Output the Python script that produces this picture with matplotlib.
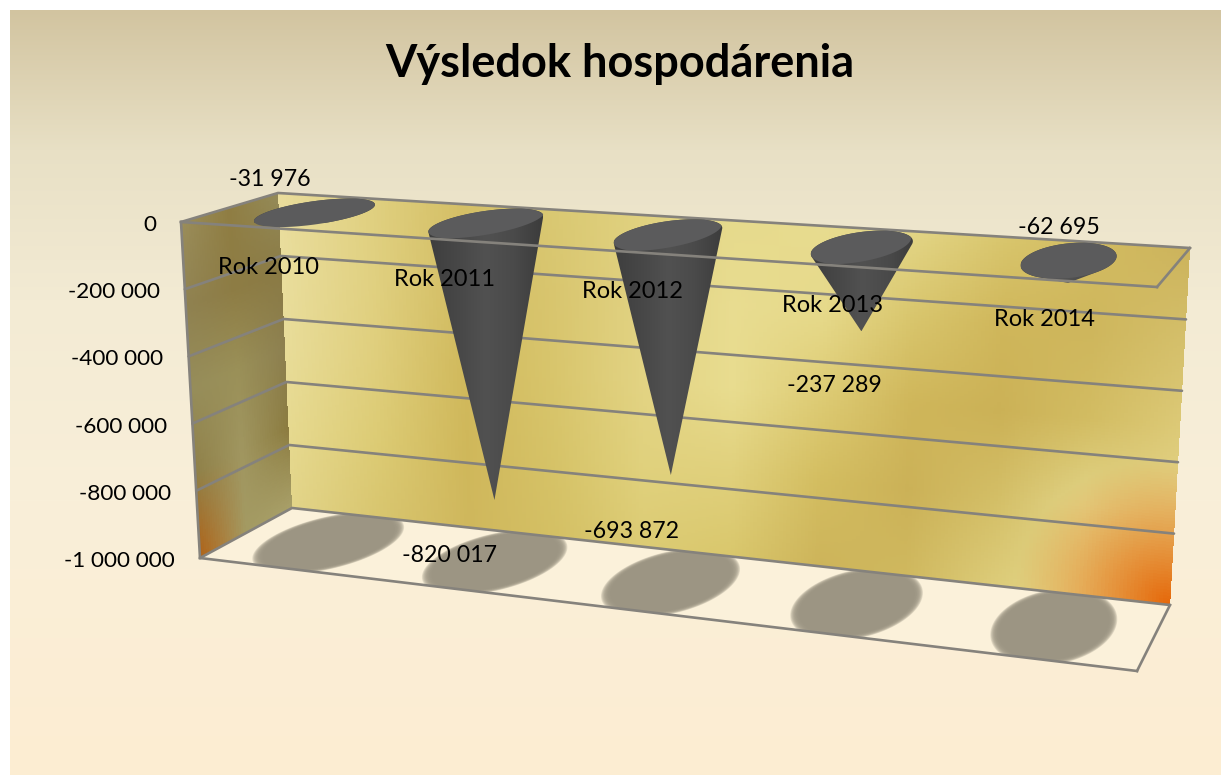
#!/usr/bin/env python3
"""Výsledok hospodárenia: 3D cone chart drawn by hand on a pixel-sized axes."""

import numpy as np
import matplotlib
matplotlib.use("Agg")
import matplotlib.pyplot as plt
from matplotlib.colors import to_rgb
from matplotlib.patches import Polygon

# ----------------------------- DATA ------------------------------------------
TITLE = "Výsledok hospodárenia"
YEARS = ["Rok 2010", "Rok 2011", "Rok 2012", "Rok 2013", "Rok 2014"]
RESULTS = [-31976, -820017, -693872, -237289, -62695]
RESULT_LABELS = ["-31 976", "-820 017", "-693 872", "-237 289", "-62 695"]
TICKS = [0, -200000, -400000, -600000, -800000, -1000000]
TICK_LABELS = ["0", "-200 000", "-400 000", "-600 000", "-800 000", "-1 000 000"]

# ----------------------------- LAYOUT ----------------------------------------
W, H = 1221, 775
VMIN = -1000000
# box corners in pixels: front-left, back-left, back-right, front-right
TOP_CORNERS = [(181, 222), (278, 193), (1190, 248), (1157, 287)]
FLOOR_CORNERS = [(200, 558), (292, 508), (1170, 605), (1137, 671)]
YEAR_POS = [(268, 267), (445, 280), (632, 292), (833, 306), (1044, 319)]
VALUE_POS = [(270, 179), (449, 556), (632, 532), (834, 386), (1059, 227)]
CENTRE_SHIFT = 0.003
CONE_RD = 0.47
SHADOW_RD = 0.56

LINE = "#85827c"
LW = 1.9
FONT = "Lato"

BACK_TEX = [
    "e9dc9c e0d080 d4bf66 d9c872 e0d17f e6da8c e7db8f e2d484 d8c56c d2bb60 ccb35c",
    "e9dd9c e0d080 d2bc62 d8c56e e1d282 e8dc90 e6d98a d8c56c cfb65a ceb65c d4bf6a",
    "e8dc98 dfce7c d0b95c d8c56c e2d383 e8dc8f ddcb74 cfb65a cbb156 d2bc62 dcc976",
    "e6d98f dccb74 cfb75a d6c368 e0d17d e0d07c d3bd60 cbb157 d3be66 e2d487 e4d488",
    "e2d488 d8c56e cfb75c d4c064 dccb74 d9c76c cdb45a cfb85e dccb78 e5d98c e5d88c",
]
LEFT_TEX = [
    "9a8d5a 8f7d42 948a58",
    "8f8150 8d7c44 8a7a44",
    "968d5a 9a9058 8d8050",
    "8f8048 a09660 8c7c40",
    "b0651a a39a62 a89f68",
]
BG_STOPS = [(10, "#d2c4a0"), (150, "#e8e0c5"), (300, "#f3ebd4"), (500, "#f9efd9"), (775, "#fdedd2")]


def homography(corners):
    """Projective map of the unit square (t along the width, d into the depth)."""
    src = [(0, 0), (0, 1), (1, 1), (1, 0)]
    a, b = [], []
    for (u, v), (x, y) in zip(src, corners):
        a.append([u, v, 1, 0, 0, 0, -u * x, -v * x])
        a.append([0, 0, 0, u, v, 1, -u * y, -v * y])
        b += [x, y]
    return np.append(np.linalg.solve(np.array(a, float), np.array(b, float)), 1).reshape(3, 3)


H_TOP = homography(TOP_CORNERS)
H_FLOOR = homography(FLOOR_CORNERS)


def plane(hm, t, d):
    t, d = np.asarray(t, float), np.asarray(d, float)
    w = hm[2, 0] * t + hm[2, 1] * d + hm[2, 2]
    return ((hm[0, 0] * t + hm[0, 1] * d + hm[0, 2]) / w,
            (hm[1, 0] * t + hm[1, 1] * d + hm[1, 2]) / w)


def to_px(t, d, value):
    """Chart scale: position in the box and a value to a pixel position."""
    f = np.asarray(value, float) / VMIN
    x0, y0 = plane(H_TOP, t, d)
    x1, y1 = plane(H_FLOOR, t, d)
    return x0 + (x1 - x0) * f, y0 + (y1 - y0) * f


def tex_array(rows, ny, nx):
    """Smooth a coarse grid of hex colours up to ny x nx."""
    grid = np.array([[to_rgb("#" + c) for c in r.split()] for r in rows])
    yi = np.linspace(0, grid.shape[0] - 1, ny)
    xi = np.linspace(0, grid.shape[1] - 1, nx)
    across = np.stack([[np.interp(xi, np.arange(grid.shape[1]), row[:, k]) for row in grid]
                       for k in range(3)], axis=-1)
    return np.stack([[np.interp(yi, np.arange(grid.shape[0]), across[:, j, k]) for j in range(nx)]
                     for k in range(3)], axis=-1).transpose(1, 0, 2)


def add_wall(ax, a, b, c, e, tex):
    """Bilinear textured quad; a-b is the top edge, e-c the bottom edge."""
    ny, nx = tex.shape[:2]
    s, v = np.meshgrid(np.linspace(0, 1, nx + 1), np.linspace(0, 1, ny + 1))
    a, b, c, e = [np.array(p, float) for p in (a, b, c, e)]
    top_x, top_y = a[0] + (b[0] - a[0]) * s, a[1] + (b[1] - a[1]) * s
    bot_x, bot_y = e[0] + (c[0] - e[0]) * s, e[1] + (c[1] - e[1]) * s
    ax.pcolormesh(top_x + (bot_x - top_x) * v, top_y + (bot_y - top_y) * v, tex,
                  shading="flat", antialiased=False, rasterized=True, zorder=2)


def circle(hm, tc, rt, rd, dc=0.5, n=120):
    ang = np.linspace(0, 2 * np.pi, n)
    return np.column_stack(plane(hm, tc + rt * np.cos(ang), dc + rd * np.sin(ang)))


def hull(points):
    """Convex hull (monotone chain), used for the cone outline."""
    pts = sorted(map(tuple, points))
    def half(seq):
        out = []
        for p in seq:
            while len(out) > 1 and ((out[-1][0] - out[-2][0]) * (p[1] - out[-2][1])
                                    - (out[-1][1] - out[-2][1]) * (p[0] - out[-2][0])) <= 0:
                out.pop()
            out.append(p)
        return out[:-1]
    return np.array(half(pts) + half(pts[::-1]))


plt.rcParams["font.family"] = [FONT, "DejaVu Sans"]
fig = plt.figure(figsize=(W / 100, H / 100), dpi=100, facecolor="white")
ax = fig.add_axes([0, 0, 1, 1])

# background gradient, white strip on top and left
ys = np.arange(10, H)
rgb = np.array([to_rgb(c) for _, c in BG_STOPS])
bg = np.stack([np.interp(ys, [p for p, _ in BG_STOPS], rgb[:, k]) for k in range(3)], axis=-1)
ax.imshow(bg[:, None, :], extent=[10, W, H, 10], aspect="auto", zorder=0)

# walls and floor
tex = tex_array(BACK_TEX, 120, 240)
yy, xx = np.mgrid[0:120, 0:240]
dist = np.hypot((xx - 239) / 42.0, (yy - 119) / 48.0)
glow = np.clip(1 - dist, 0, 1)[..., None] ** 1.1
tex = tex * (1 - glow) + np.array(to_rgb("#e5680a")) * glow
add_wall(ax, TOP_CORNERS[1], TOP_CORNERS[2], FLOOR_CORNERS[2], FLOOR_CORNERS[1], tex)
add_wall(ax, TOP_CORNERS[0], TOP_CORNERS[1], FLOOR_CORNERS[1], FLOOR_CORNERS[0],
         tex_array(LEFT_TEX, 120, 40))
floor = Polygon(FLOOR_CORNERS, closed=True, fc="#fbf1da", ec="none", zorder=2.1)
ax.add_patch(floor)

# shadows on the floor: stacked polygons make the soft rim
centres = (np.arange(len(YEARS)) + 0.5) / len(YEARS) + CENTRE_SHIFT
for tc in centres:
    rt = 0.067 - 0.013 * tc
    for k in range(14):
        scale = 1.05 - 0.011 * k
        p = Polygon(circle(H_FLOOR, tc, rt * scale, SHADOW_RD * scale), closed=True,
                    fc="#9c9583", ec="none", alpha=0.24, zorder=2.2)
        ax.add_patch(p)
        p.set_clip_path(floor)

# grid lines on both walls
for val in TICKS:
    xs, ys_ = to_px(np.array([0.0, 0.0, 1.0]), np.array([0.0, 1.0, 1.0]), val)
    ax.plot(xs, ys_, color=LINE, lw=LW, zorder=3, solid_capstyle="round")

# box edges
edges = [
    (FLOOR_CORNERS[0], FLOOR_CORNERS[3]), (FLOOR_CORNERS[3], FLOOR_CORNERS[2]),
    (TOP_CORNERS[2], TOP_CORNERS[3]), (TOP_CORNERS[0], FLOOR_CORNERS[0]),
]
for p, q in edges:
    ax.plot([p[0], q[0]], [p[1], q[1]], color=LINE, lw=LW, zorder=3)

# cones
ramp = np.array([to_rgb(c) for c in ("#3e3e3e", "#474747", "#515151", "#4a4a4a", "#3c3c3c")])
grad = np.stack([np.interp(np.linspace(0, 4, 128), np.arange(5), ramp[:, k]) for k in range(3)], axis=-1)
for tc, val in zip(centres, RESULTS):
    rt = 0.052 - 0.012 * tc
    rim = circle(H_TOP, tc, rt, CONE_RD)
    tip = np.array(to_px(tc, 0.5, val), float)
    outline = hull(np.vstack([rim, tip]))
    shape = Polygon(outline, closed=True, fc="none", ec="none", transform=ax.transData)
    ax.add_patch(shape)
    im = ax.imshow(grad[None, :, :], extent=[rim[:, 0].min(), rim[:, 0].max(), tip[1], rim[:, 1].min()],
                   aspect="auto", zorder=4)
    im.set_clip_path(shape)
    # lit top of the cone, cut on the front right side (shallow cones stay whole)
    lit = Polygon(rim, closed=True, fc="#5b5b5c", ec="none", zorder=4.1)
    ax.add_patch(lit)
    if val / VMIN > 0.1:
        cut = Polygon(circle(H_TOP, tc - 0.25 * rt, rt * 1.12, CONE_RD * 1.15, dc=0.5 + 0.12 * CONE_RD),
                      closed=True, fc="none", ec="none", transform=ax.transData)
        ax.add_patch(cut)
        lit.set_clip_path(cut)

# the front edge of the zero plane passes over the cones
xs, ys_ = to_px(np.array([0.0, 1.0]), np.array([0.0, 0.0]), 0)
ax.plot(xs, ys_, color=LINE, lw=LW, zorder=5)

# texts
ax.text(620, 64, TITLE, fontsize=32.5, fontweight="bold", ha="center", va="center", color="black", zorder=6)
for val, lab in zip(TICKS, TICK_LABELS):
    x, y = to_px(0.0, 0.0, val)
    ax.text(x - 25, y + 3, lab, fontsize=16.2, ha="right", va="center", color="black", zorder=6)
for (x, y), lab in zip(YEAR_POS, YEARS):
    ax.text(x, y, lab, fontsize=17, ha="center", va="center", color="black", zorder=6)
for (x, y), lab in zip(VALUE_POS, RESULT_LABELS):
    ax.text(x, y, lab, fontsize=16.7, ha="center", va="center", color="black", zorder=6)

ax.set_xlim(0, W)
ax.set_ylim(H, 0)
ax.axis("off")
fig.savefig("out.png", dpi=100, facecolor="white")
